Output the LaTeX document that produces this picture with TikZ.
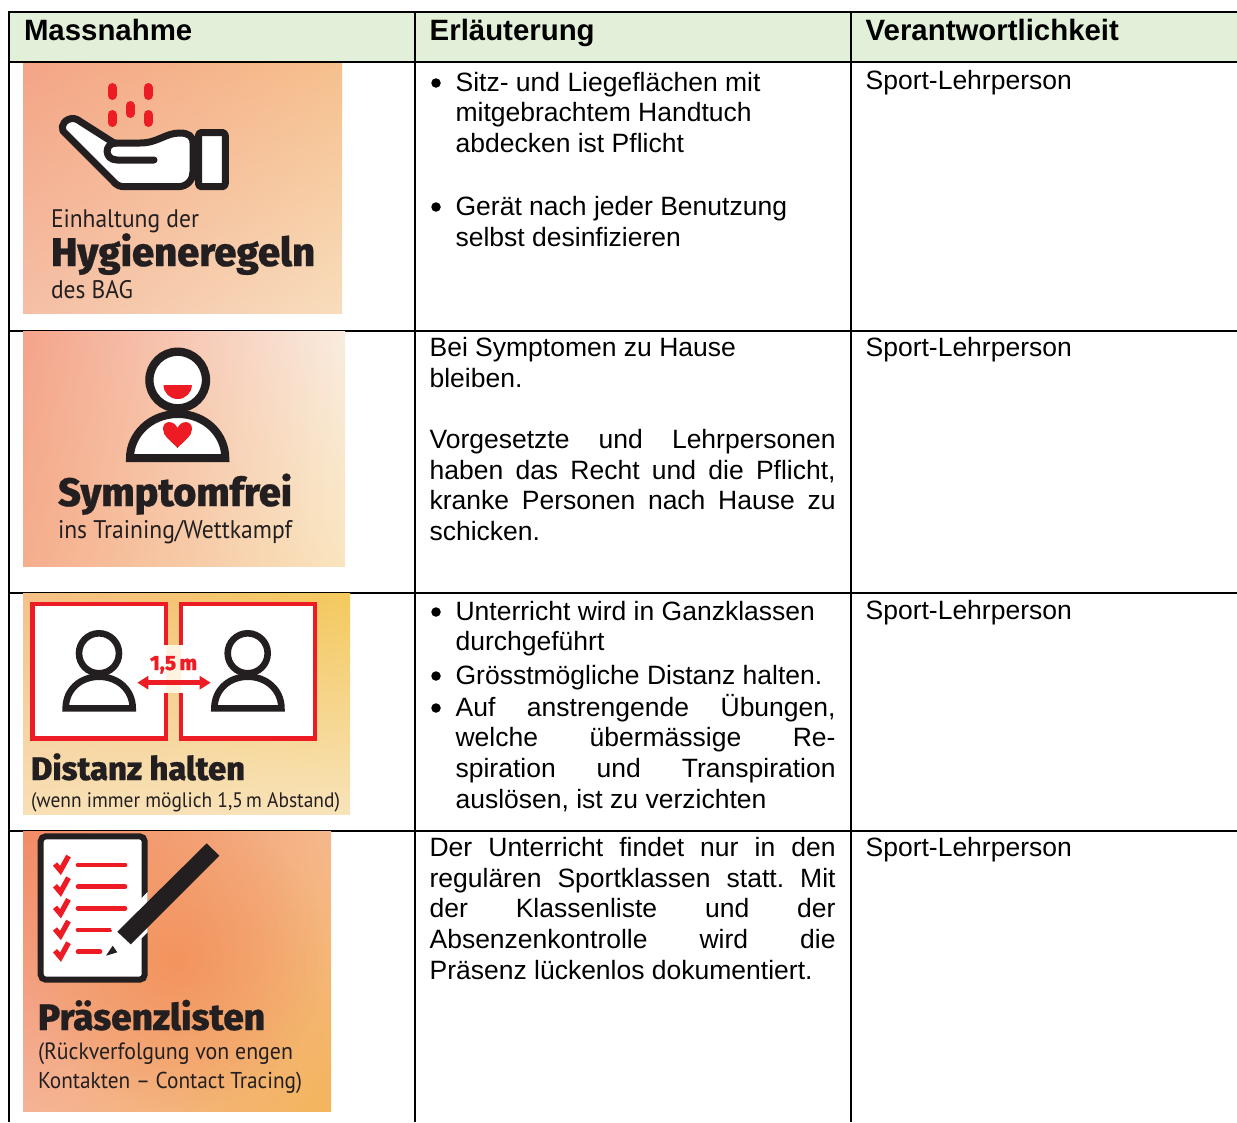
\documentclass[tikz,border=0pt]{standalone}
\usepackage{fontspec}
\usepackage{graphicx}
\usetikzlibrary{arrows.meta,shadings,fadings}
\setmainfont{Liberation Sans}
\newfontfamily\heavy{Fira Sans ExtraBold}[FakeBold=0.6]
\newfontfamily\capt{PT Sans}
\definecolor{head}{HTML}{E2EFD9}
\definecolor{ink}{HTML}{231F20}
\definecolor{dropred}{HTML}{ED1C24}
\definecolor{aul}{HTML}{F4A586}\definecolor{aur}{HTML}{F6C08E}\definecolor{all}{HTML}{F5BFA5}\definecolor{alr}{HTML}{F8DDBC}
\definecolor{bul}{HTML}{F4A48A}\definecolor{bur}{HTML}{F9ECDF}\definecolor{bll}{HTML}{F5AE8C}\definecolor{blr}{HTML}{F9E5BE}
\definecolor{cul}{HTML}{F5C088}\definecolor{cur}{HTML}{F4C95C}\definecolor{cll}{HTML}{F8E0B5}\definecolor{clr}{HTML}{F8E3BA}
\definecolor{dul}{HTML}{F28A66}\definecolor{dur}{HTML}{F5B88C}\definecolor{dll}{HTML}{F5B398}\definecolor{dlr}{HTML}{F4B55C}
\definecolor{dmid}{HTML}{F3905A}
\tikzfading[name=softdisc,inner color=transparent!15,outer color=transparent!100]
\tikzset{
  rule/.style={line width=2pt,black},
  txt/.style={inner sep=0pt,outer sep=0pt,anchor=base west,font=\fontsize{26.5}{30.7}\selectfont,text=black},
  hdr/.style={inner sep=0pt,outer sep=0pt,anchor=base west,font=\fontsize{29.4}{30.7}\selectfont\bfseries,text=black},
  big/.style={inner sep=0pt,outer sep=0pt,anchor=base west,font=\fontsize{40}{40}\heavy,text=ink},
  small/.style={inner sep=0pt,outer sep=0pt,anchor=base west,font=\fontsize{24}{24}\capt,text=ink},
  bull/.style={circle,fill=black,inner sep=0pt,minimum size=9.5pt},
  inkline/.style={draw=ink,line width=7pt,line join=round},
  drop/.style={line width=9pt,line cap=round,dropred},
  redline/.style={line width=4.7pt,line cap=round,dropred},
  chk/.style={line width=5.3pt,dropred,line join=miter},
}
\newcommand{\fit}[2]{\resizebox{#1pt}{!}{#2}}
\newcommand{\fitc}[2]{\scalebox{1}[1.08]{\resizebox{#1pt}{!}{#2}}}
\newcommand{\J}[1]{\makebox[406pt][s]{#1}}
\newcommand{\JB}[1]{\makebox[380pt][s]{#1}}
\newcommand{\para}[1]{\parbox[t]{406pt}{\frenchspacing\setlength{\parindent}{0pt}\setlength{\baselineskip}{30.7pt}#1}}
\begin{document}
\begin{tikzpicture}[x=1pt,y=-1pt]
\useasboundingbox (0,0) rectangle (1237,1122);
% table
\fill[head] (9,12) rectangle (1237,62);
\draw[rule] (9,12) -- (1237,12);
\draw[rule] (9,62.3) -- (1237,62.3);
\draw[rule] (9,330.7) -- (1237,330.7);
\draw[rule] (9,593) -- (1237,593);
\draw[rule] (9,830.7) -- (1237,830.7);
\draw[rule] (9.3,11) -- (9.3,1122);
\draw[rule] (415,11) -- (415,1122);
\draw[rule] (851,11) -- (851,1122);
% headers
\node[hdr] (h1) at (24,40) {Massnahme};
\node[hdr] (h2) at (429.7,40) {Erläuterung};
\node[hdr] (h3) at (865.7,40) {Verantwortlichkeit};
% responsibility
\node[txt] (r1) at (865.6,89) {Sport-Lehrperson};
\node[txt] (r2) at (865.6,356) {Sport-Lehrperson};
\node[txt] (r3) at (865.6,619.5) {Sport-Lehrperson};
\node[txt] (r4) at (865.6,856) {Sport-Lehrperson};
% row 1 text
\node[bull] (b1) at (436,83) {};
\node[txt] (t1) at (455.6,91) {\para{Sitz- und Liegeflächen mit\\mitgebrachtem Handtuch\\abdecken ist Pflicht}};
\node[bull] (b2) at (436,207) {};
\node[txt] (t2) at (455.6,215.4) {\para{Gerät nach jeder Benutzung\\selbst desinfizieren}};
% row 2 text
\node[txt] (t3) at (429.6,356.4) {\para{Bei Symptomen zu Hause\\bleiben.}};
\node[txt] (t4) at (429.6,448.4) {\para{\J{Vorgesetzte und Lehrpersonen}\\\J{haben das Recht und die Pflicht,}\\\J{kranke Personen nach Hause zu}\\schicken.}};
% row 3 text
\node[bull] (b3) at (436,612) {};
\node[txt] (t5) at (455.6,620) {\para{Unterricht wird in Ganzklassen\\durchgeführt}};
\node[bull] (b4) at (436,676) {};
\node[txt] (t6) at (455.6,684) {\para{Grösstmögliche Distanz halten.}};
\node[bull] (b5) at (436,708) {};
\node[txt] (t7) at (455.6,716) {\para{\JB{Auf anstrengende Übungen,}\\\JB{welche übermässige Re-}\\\JB{spiration und Transpiration}\\auslösen, ist zu verzichten}};
% row 4 text
\node[txt] (t8) at (429.6,856.4) {\para{\J{Der Unterricht findet nur in den}\\\J{regulären Sportklassen statt. Mit}\\\J{der Klassenliste und der}\\\J{Absenzenkontrolle wird die}\\Präsenz lückenlos dokumentiert.}};
% ---- image 1: hygiene
\shade[upper left=aul,upper right=aur,lower left=all,lower right=alr] (23,63.5) rectangle (342,313.6);
\foreach \x/\ya/\yb in {112/87.5/95.5,148/87.5/95.5,130/105.5/113.5,112/114.5/122.5,148/114.5/122.5}
  \draw[drop] (\x,\ya) -- (\x,\yb);
\draw[inkline,fill=white,rounded corners=3pt] (198.5,132.5) rectangle (225.3,186.7);
\draw[inkline,fill=white] (74,118.5) .. controls (66,118) and (60,125) .. (63,131)
  -- (113,181) .. controls (116,185) and (120,186.7) .. (124,186.7)
  -- (178,186.7) .. controls (188,186.7) and (193,179) .. (193,172)
  -- (193,143) .. controls (193,136) and (188,133) .. (180,133)
  .. controls (165,133) and (158,143) .. (140,143)
  -- (114,143) -- (81,122) .. controls (78,120) and (76,118.5) .. (74,118.5) -- cycle;
\draw[inkline,line cap=round] (154,160) -- (117,160) .. controls (104,160) and (104,143) .. (116,143);
\node[small] (c1a) at (51,227) {\fitc{148}{Einhaltung der}};
\node[big] (c1b) at (51,266) {\fit{264}{Hygieneregeln}};
\node[small] (c1c) at (51,298) {\fitc{82}{des BAG}};
% ---- image 2: symptom free
\shade[upper left=bul,upper right=bur,lower left=bll,lower right=blr] (23,331.5) rectangle (345,566.6);
\draw[draw=ink,line width=8pt,fill=white,line join=miter] (130,458) .. controls (130,435) and (150,414) .. (178,414) .. controls (206,414) and (225.3,435) .. (225.3,458) -- cycle;
\draw[draw=ink,line width=8.3pt,fill=white] (177.7,380) circle (28.3);
\fill[dropred] (163.5,385) arc (180:0:14.2 and 14) -- cycle;
\fill[dropred] (177.5,448) .. controls (170,440) and (163,436) .. (163,429)
  .. controls (163,420) and (174,420) .. (177.5,428)
  .. controls (181,420) and (192,420) .. (192,429)
  .. controls (192,436) and (185,440) .. (177.5,448) -- cycle;
\node[big] (c2a) at (58,506) {\fit{234}{Symptomfrei}};
\node[small] (c2b) at (58,538) {\fitc{234}{ins Training/Wettkampf}};
% ---- image 3: distance
\shade[upper left=cul,upper right=cur,lower left=cll,lower right=clr] (23,593.5) rectangle (350,814.6);
\fill[white] (32.3,604) rectangle (166,738.3);
\fill[white] (181,604) rectangle (315,738.3);
\fill[white!60!cll] (166,645) rectangle (181,693.3);
\draw[line width=4.7pt,dropred] (166,645) -- (166,604) -- (32.3,604) -- (32.3,738.3) -- (166,738.3) -- (166,693.3);
\draw[line width=4.7pt,dropred] (181,645) -- (181,604) -- (315,604) -- (315,738.3) -- (181,738.3) -- (181,693.3);
\foreach \dx in {0,148.7}{
  \draw[ink,line width=6.6pt,line join=miter] (65.7+\dx,708.3) .. controls (65.7+\dx,690) and (80+\dx,676.7) .. (99.2+\dx,676.7) .. controls (118+\dx,676.7) and (132.7+\dx,690) .. (132.7+\dx,708.3) -- cycle;
  \draw[ink,line width=6.6pt] (99+\dx,653.3) circle (20);
}
\draw[dropred,line width=4.5pt,{Triangle[width=13pt,length=11pt]}-{Triangle[width=13pt,length=11pt]}] (137.3,682.7) -- (210.7,682.7);
\node[big,text=dropred] (c3m) at (150,670) {\fit{47}{1,5\,m}};
\node[big] (c3a) at (31,780) {\fit{214}{Distanz halten}};
\node[small] (c3b) at (31,807) {\fitc{309}{(wenn immer möglich 1,5\,m Abstand)}};
% ---- image 4: attendance list
\shade[upper left=dul,upper right=dur,lower left=dll,lower right=dlr] (23,831.5) rectangle (331,1111.6);
\begin{scope}
\clip (23,831.5) rectangle (331,1111.6);
\fill[dmid,path fading=softdisc] (175,960) circle (150);
\end{scope}
\draw[ink,line width=6pt,fill=white,rounded corners=5pt] (40.7,836.3) rectangle (144.7,979.7);
\foreach \y/\xe in {865/125,886.7/125,908.3/125,930/110,951.7/100}{
  \draw[redline] (78,\y) -- (\xe,\y);
  \draw[chk] (55,\y-1) -- (60.5,\y+5.5) -- (68.5,\y-9);
}
\begin{scope}
\clip (30,830) rectangle (147.7,990);
\fill[white] (203.7,836) -- (224,856) -- (130.7,949) -- (110.7,929) -- cycle;
\end{scope}
\fill[ink] (206.7,843.3) -- (219.3,855.7) -- (130.7,944.3) -- (117.3,931.7) -- cycle;
\fill[ink] (106,955.7) -- (112.7,945.7) -- (117.3,952.3) -- cycle;
\node[big] (c4a) at (38,1030) {\fit{227}{Präsenzlisten}};
\node[small] (c4b) at (38,1059) {\fitc{255}{(Rückverfolgung von engen}};
\node[small] (c4c) at (38,1088) {\fitc{264}{Kontakten – Contact Tracing)}};
\end{tikzpicture}
\end{document}
